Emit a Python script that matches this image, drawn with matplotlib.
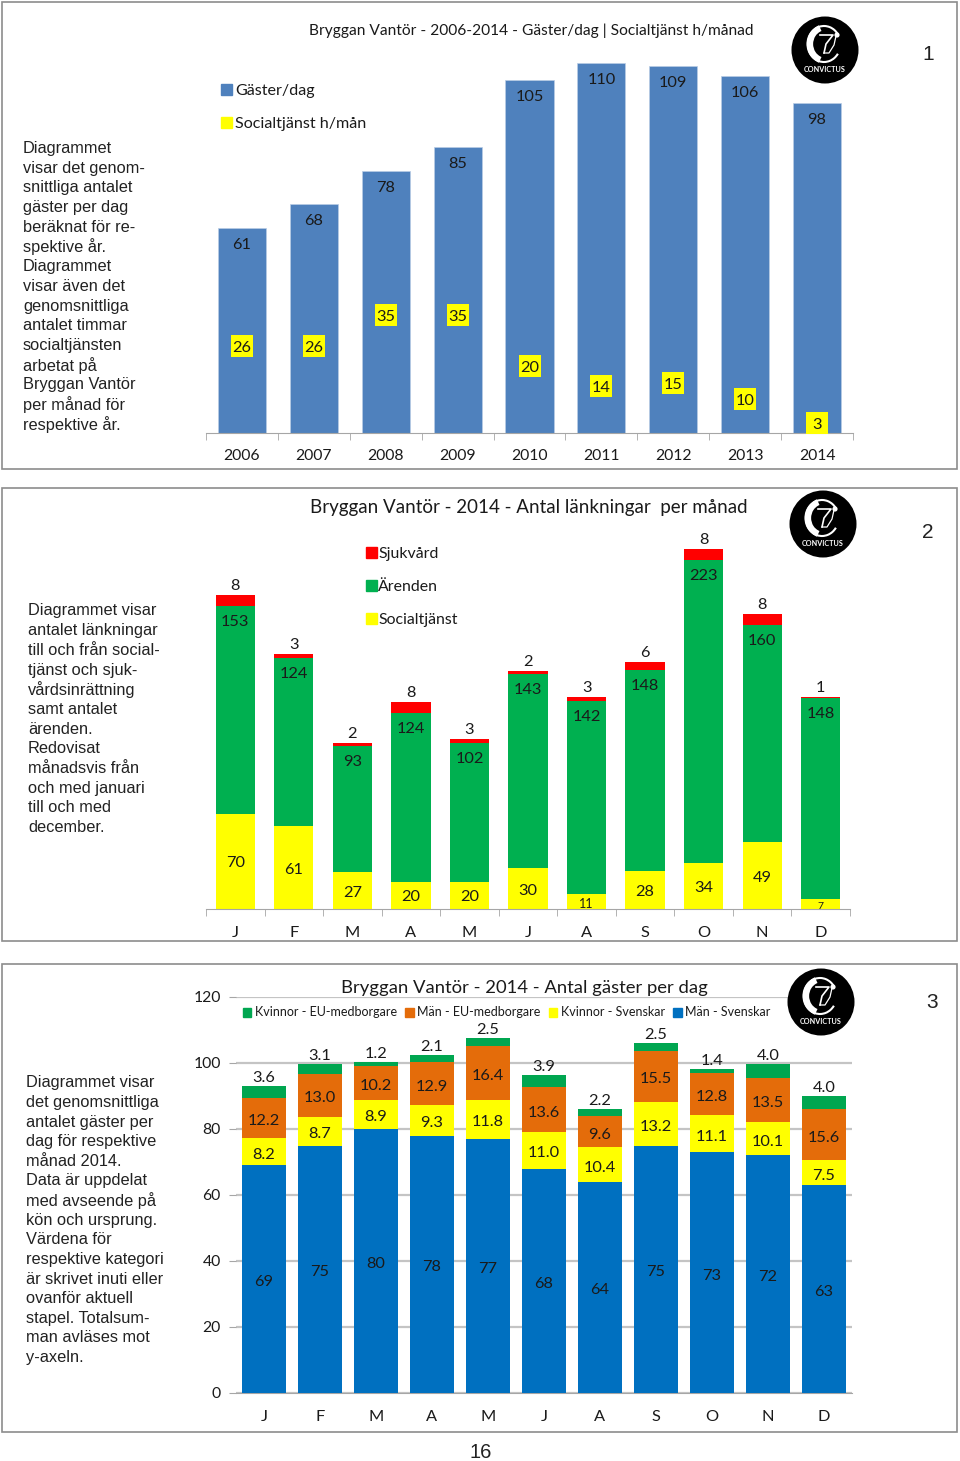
import matplotlib
matplotlib.use("Agg")
import matplotlib.pyplot as plt
from matplotlib.patches import Arc, Circle, Ellipse, Patch, Rectangle
import numpy as np

plt.rcParams["font.family"] = ["Lato", "DejaVu Sans"]

W, H = 960, 1461
TEXT = "#1a1a1a"
AXIS_GREY = "#a6a6a6"

# chart 1
years = ["2006", "2007", "2008", "2009", "2010", "2011", "2012", "2013", "2014"]
guests = [61, 68, 78, 85, 105, 110, 109, 106, 98]
social_hours = [26, 26, 35, 35, 20, 14, 15, 10, 3]

# chart 2
months2 = ["J", "F", "M", "A", "M", "J", "A", "S", "O", "N", "D"]
social = [70, 61, 27, 20, 20, 30, 11, 28, 34, 49, 7]
arenden = [153, 124, 93, 124, 102, 143, 142, 148, 223, 160, 148]
sjukvard = [8, 3, 2, 8, 3, 2, 3, 6, 8, 8, 1]

# chart 3
months3 = ["J", "F", "M", "A", "M", "J", "A", "S", "O", "N", "D"]
man_sv = [69, 75, 80, 78, 77, 68, 64, 75, 73, 72, 63]
kvinnor_sv = [8.2, 8.7, 8.9, 9.3, 11.8, 11.0, 10.4, 13.2, 11.1, 10.1, 7.5]
man_eu = [12.2, 13.0, 10.2, 12.9, 16.4, 13.6, 9.6, 15.5, 12.8, 13.5, 15.6]
kvinnor_eu = [3.6, 3.1, 1.2, 2.1, 2.5, 3.9, 2.2, 2.5, 1.4, 4.0, 4.0]

text1 = ["Diagrammet", "visar det genom-", "snittliga antalet", "gäster per dag", "beräknat för re-",
         "spektive år.", "Diagrammet", "visar även det", "genomsnittliga", "antalet timmar",
         "socialtjänsten", "arbetat på", "Bryggan Vantör", "per månad för", "respektive år."]
text2 = ["Diagrammet visar", "antalet länkningar", "till och från social-", "tjänst och sjuk-",
         "vårdsinrättning", "samt antalet", "ärenden.", "Redovisat", "månadsvis från",
         "och med januari", "till och med", "december."]
text3 = ["Diagrammet visar", "det genomsnittliga", "antalet gäster per", "dag för respektive",
         "månad 2014.", "Data är uppdelat", "med avseende på", "kön och ursprung.", "Värdena för",
         "respektive kategori", "är skrivet inuti eller", "ovanför aktuell", "stapel. Totalsum-",
         "man avläses mot", "y-axeln."]


def px_axes(fig, left, top, right, bottom):
    ax = fig.add_axes([left / W, 1 - bottom / H, (right - left) / W, (bottom - top) / H])
    ax.patch.set_alpha(0)
    for s in ["top", "left", "right"]:
        ax.spines[s].set_visible(False)
    ax.spines["bottom"].set_color(AXIS_GREY)
    return ax


def month_axis(ax, labels, fontsize, pad=10):
    n = len(labels)
    ax.set_xlim(-0.5, n - 0.5)
    ax.set_xticks(range(n))
    ax.set_xticklabels(labels, fontsize=fontsize, color=TEXT)
    ax.set_xticks(np.arange(n + 1) - 0.5, minor=True)
    ax.tick_params(axis="x", which="major", length=0, pad=pad)
    ax.tick_params(axis="x", which="minor", length=5, color=AXIS_GREY)
    ax.set_yticks([])


def label(ax, x, y, s, dy=0, size=11.8, **kw):
    ax.annotate(s, (x, y), xytext=(0, dy - 2), textcoords="offset pixels", ha="center", va="center",
                fontsize=size, color=TEXT, **kw)


def logo(over, cx, cy):
    over.add_patch(Ellipse((cx, cy), 67, 67, color="black", lw=0))
    # the C with its thick left side
    over.add_patch(Arc((cx - 1, cy - 6), 33, 36, theta1=35, theta2=325, color="white", lw=1.5))
    over.add_patch(Arc((cx + 1, cy - 6), 32, 34, theta1=110, theta2=250, color="white", lw=4.5))
    over.add_patch(Circle((cx + 12, cy - 15), 2.6, color="white", lw=0))
    # the thin 7 inside it
    over.plot([cx - 5, cx + 8, cx + 1, cx - 1], [cy - 15, cy - 15, cy - 6, cy + 3], color="white", lw=1.2)
    over.plot([cx - 1, cx + 4, cx + 9, cx + 11], [cy + 3, cy + 3, cy - 5, cy - 14], color="white", lw=0.9)
    over.text(cx, cy + 19, "CONVICTUS", color="white", fontsize=5.2, weight="bold", ha="center", va="center")


fig = plt.figure(figsize=(W / 100, H / 100), dpi=100, facecolor="white")

# chart 1: guests per day with social service hours on top as squares
ax1 = px_axes(fig, 206, 433 - 125 * 3.364, 853, 433)
x1 = np.arange(len(years))
ax1.bar(x1, guests, width=0.67, color="#4F81BD", edgecolor="#B9CDE5", linewidth=0.5)
ax1.scatter(x1, social_hours, marker="s", s=230, color="#FFFF00", linewidths=0, zorder=3)
ax1.set_ylim(0, 125)
month_axis(ax1, years, 11.3, pad=11.5)
for i in x1:
    label(ax1, i, guests[i], str(guests[i]), dy=-15)
    label(ax1, i, social_hours[i], str(social_hours[i]), zorder=4)
ax1.legend(handles=[Patch(color="#4F81BD", label="Gäster/dag"), Patch(color="#FFFF00", label="Socialtjänst h/mån")],
           loc="upper left", bbox_to_anchor=(216 / W, 1 - 79 / H), bbox_transform=fig.transFigure, frameon=False,
           fontsize=11.6, labelcolor=TEXT, handlelength=0.7, handleheight=0.7, handletextpad=0.2, labelspacing=1.15,
           borderpad=0.3, borderaxespad=0)

# chart 2: referrals per month
ax2 = px_axes(fig, 206, 909 - 300 * 1.359, 850, 909)
x2 = np.arange(len(months2))
ax2.bar(x2, social, width=0.67, color="#FFFF00")
ax2.bar(x2, arenden, width=0.67, bottom=social, color="#00B050")
ax2.bar(x2, sjukvard, width=0.67, bottom=np.add(social, arenden), color="#FF0000")
ax2.set_ylim(0, 300)
month_axis(ax2, months2, 11.8, pad=12.5)
for i in x2:
    total = social[i] + arenden[i] + sjukvard[i]
    small = social[i] < 15
    label(ax2, i, social[i] / 2, str(social[i]), size=7.5 if social[i] < 10 else (9 if small else 11.8))
    label(ax2, i, social[i] + arenden[i], str(arenden[i]), dy=-14)
    label(ax2, i, total, str(sjukvard[i]), dy=11)
ax2.legend(handles=[Patch(color="#FF0000", label="Sjukvård"), Patch(color="#00B050", label="Ärenden"),
                    Patch(color="#FFFF00", label="Socialtjänst")],
           loc="upper left", bbox_to_anchor=(361 / W, 1 - 542 / H), bbox_transform=fig.transFigure, frameon=False,
           fontsize=11.4, labelcolor=TEXT, handlelength=0.7, handleheight=0.7, handletextpad=0.1, labelspacing=1.2,
           borderpad=0.3, borderaxespad=0)

# chart 3: guests per day, split on gender and origin
ax3 = px_axes(fig, 236, 997, 852, 1393)
x3 = np.arange(len(months3))
b1 = np.array(man_sv)
b2 = b1 + kvinnor_sv
b3 = b2 + man_eu
ax3.bar(x3, man_sv, width=0.77, color="#0070C0", zorder=3)
ax3.bar(x3, kvinnor_sv, width=0.77, bottom=b1, color="#FFFF00", zorder=3)
ax3.bar(x3, man_eu, width=0.77, bottom=b2, color="#E46C0A", zorder=3)
ax3.bar(x3, kvinnor_eu, width=0.77, bottom=b3, color="#00A650", zorder=3)
ax3.set_ylim(0, 120)
month_axis(ax3, months3, 11.8, pad=12)
ax3.set_yticks(range(0, 121, 20))
ax3.tick_params(axis="y", labelsize=11.3, labelcolor=TEXT, length=5, color=AXIS_GREY, pad=6)
ax3.tick_params(axis="x", which="minor", length=0)
ax3.grid(axis="y", color="#c4c4c4", linewidth=1.6, zorder=0)
ax3.set_axisbelow(True)
for i in x3:
    label(ax3, i, man_sv[i] / 2, str(man_sv[i]), dy=-1, zorder=4)
    label(ax3, i, b1[i] + kvinnor_sv[i] / 2, f"{kvinnor_sv[i]:.1f}", dy=-1, zorder=4)
    label(ax3, i, b2[i] + man_eu[i] / 2, f"{man_eu[i]:.1f}", dy=-1, zorder=4)
    label(ax3, i, b3[i] + kvinnor_eu[i], f"{kvinnor_eu[i]:.1f}", dy=10, zorder=4)
ax3.legend(handles=[Patch(color="#00A650", label="Kvinnor - EU-medborgare"), Patch(color="#E46C0A", label="Män - EU-medborgare"),
                    Patch(color="#FFFF00", label="Kvinnor - Svenskar"), Patch(color="#0070C0", label="Män - Svenskar")],
           loc="upper left", bbox_to_anchor=(240 / W, 1 - 1004 / H), bbox_transform=fig.transFigure, frameon=False, ncol=4,
           fontsize=9, labelcolor=TEXT, handlelength=0.7, handleheight=0.7, handletextpad=0.3, columnspacing=0.62,
           borderpad=0.2, borderaxespad=0)

# overlay in pixel coordinates: frames, titles, side text, logos
over = fig.add_axes([0, 0, 1, 1], zorder=5)
over.set_xlim(0, W)
over.set_ylim(H, 0)
over.axis("off")
for top, bottom in [(2, 469), (488, 941), (964, 1432)]:
    over.add_patch(Rectangle((2, top), 955, bottom - top, fill=False, ec="#8c8c8c", lw=1.2))

over.text(531, 31, "Bryggan Vantör - 2006-2014 - Gäster/dag | Socialtjänst h/månad", fontsize=11.2,
          color=TEXT, ha="center", va="center")
over.text(529, 508, "Bryggan Vantör - 2014 - Antal länkningar  per månad", fontsize=13.5,
          color=TEXT, ha="center", va="center")
over.text(524, 988, "Bryggan Vantör - 2014 - Antal gäster per dag", fontsize=13.3,
          color=TEXT, ha="center", va="center")

for lines, x, y, step in [(text1, 23, 148.5, 19.7), (text2, 28, 611, 19.7), (text3, 26, 1083, 19.6)]:
    for n, line in enumerate(lines):
        over.text(x, y + n * step, line, fontsize=11.8, family="Liberation Sans", color="#222222", va="center")

for s, x, y in [("1", 928, 55), ("2", 928, 532), ("3", 932, 1003)]:
    over.text(x, y, s, fontsize=15, family="Liberation Sans", color="#222222", ha="center", va="center")
over.text(481, 1458, "16", fontsize=14.5, family="Liberation Sans", color="#222222", ha="center", va="baseline")

logo(over, 825, 50)
logo(over, 823, 524)
logo(over, 821, 1002)

fig.savefig("out.png", dpi=100)
